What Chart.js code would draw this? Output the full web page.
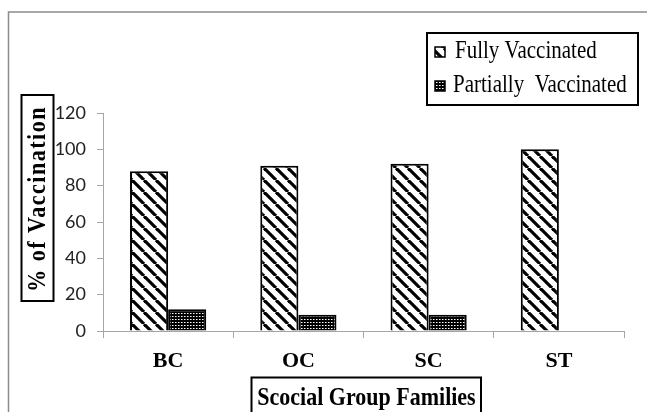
<!DOCTYPE html>
<html>
<head>
<meta charset="utf-8">
<script src="https://cdn.jsdelivr.net/npm/chart.js@4/dist/chart.umd.min.js"></script>
<style>
  html, body { margin: 0; padding: 0; background: #fff; }
  canvas { display: block; }
</style>
</head>
<body>
<canvas id="c" width="647" height="412"></canvas>
<script>
// ---- data ----
const categories = ['BC', 'OC', 'SC', 'ST'];
const fullyVaccinated = [88, 91, 92, 100];
const partiallyVaccinated = [12, 9, 9, 0];
const seriesLabels = ['Fully Vaccinated', 'Partially  Vaccinated'];
const yAxisTitle = '% of Vaccination';
const xAxisTitle = 'Scocial Group Families';
const yMin = 0, yMax = 120, yStep = 20;

// ---- patterns ----
function stripePattern() {
  const s = 12;
  const c = document.createElement('canvas');
  c.width = s; c.height = s;
  const g = c.getContext('2d');
  g.fillStyle = '#fff'; g.fillRect(0, 0, s, s);
  g.strokeStyle = '#000'; g.lineWidth = 3.2;
  for (const o of [-s, 0, s]) {
    g.beginPath(); g.moveTo(o, 0); g.lineTo(o + s, s); g.stroke();
  }
  return g.createPattern(c, 'repeat');
}
function dotPattern() {
  const s = 3;
  const c = document.createElement('canvas');
  c.width = s; c.height = s;
  const g = c.getContext('2d');
  g.fillStyle = '#000'; g.fillRect(0, 0, s, s);
  g.fillStyle = '#fff'; g.fillRect(1, 1, 1, 1);
  g.fillStyle = '#888'; g.fillRect(2, 1, 1, 1);
  return g.createPattern(c, 'repeat');
}
const ctx0 = document.getElementById('c').getContext('2d');
const stripes = stripePattern();
const dots = dotPattern();
const fills = [stripes, dots];

const decorPlugin = {
  id: 'decor',
  beforeDraw(chart) {
    const ctx = chart.ctx;
    ctx.save();
    ctx.strokeStyle = '#8c8c8c'; ctx.lineWidth = 1.5;
    ctx.strokeRect(8.5, 12, 660, 420);
    ctx.restore();
  },
  afterDraw(chart) {
    const ctx = chart.ctx;
    ctx.save();
    ctx.fillStyle = '#000'; ctx.strokeStyle = '#000';
    // legend
    ctx.lineWidth = 2;
    ctx.strokeRect(427, 33, 211, 72);
    const ys = [52, 86], xs = [455, 453], my = [47, 81];
    chart.data.datasets.forEach((ds, i) => {
      ctx.fillStyle = fills[i];
      ctx.fillRect(435, my[i], 10, 10);
      ctx.lineWidth = 1.5; ctx.strokeStyle = '#000';
      ctx.strokeRect(435, my[i], 10, 10);
      ctx.fillStyle = '#000';
      ctx.save();
      ctx.translate(xs[i], ys[i]);
      ctx.scale(1, 1.15);
      ctx.font = '21px "Liberation Serif"';
      ctx.textAlign = 'left'; ctx.textBaseline = 'middle';
      ctx.fillText(ds.label, 0, 0);
      ctx.restore();
    });
    // y title
    ctx.lineWidth = 2;
    ctx.strokeRect(21.5, 95, 32, 206);
    ctx.save();
    ctx.translate(38.5, 199);
    ctx.rotate(-Math.PI / 2);
    ctx.scale(1, 1.1);
    ctx.font = 'bold 22px "Liberation Serif"';
    ctx.letterSpacing = '1.5px';
    ctx.textAlign = 'center'; ctx.textBaseline = 'middle';
    ctx.fillText(yAxisTitle, 0, 0);
    ctx.restore();
    // x title
    ctx.strokeRect(251.5, 377.5, 229.5, 45);
    ctx.save();
    ctx.translate(366.5, 398);
    ctx.scale(1, 1.15);
    ctx.font = 'bold 22px "Liberation Serif"';
    ctx.textAlign = 'center'; ctx.textBaseline = 'middle';
    ctx.fillText(xAxisTitle, 0, 0);
    ctx.restore();
    ctx.restore();
  }
};

const axisGray = '#a6a6a6';
new Chart(ctx0, {
  type: 'bar',
  data: {
    labels: categories,
    datasets: [
      { label: seriesLabels[0], data: fullyVaccinated, backgroundColor: stripes },
      { label: seriesLabels[1], data: partiallyVaccinated, backgroundColor: dots }
    ]
  },
  options: {
    responsive: false,
    devicePixelRatio: 1,
    animation: false,
    layout: { padding: { top: 113, right: 23, left: 0, bottom: 0 } },
    datasets: {
      bar: {
        categoryPercentage: 0.585,
        barPercentage: 1.0,
        borderColor: '#000',
        borderWidth: 2,
        borderSkipped: 'start'
      }
    },
    plugins: { legend: { display: false }, tooltip: { enabled: false } },
    scales: {
      x: {
        grid: { display: true, drawOnChartArea: false, tickLength: 7, color: axisGray, offset: true },
        border: { color: axisGray, width: 1 },
        ticks: { color: '#000', padding: 10, font: { family: 'Liberation Serif', weight: 'bold', size: 22 } },
        afterFit: (s) => { s.height = 81; }
      },
      y: {
        min: yMin, max: yMax,
        grid: { display: true, drawOnChartArea: false, tickLength: 6, color: axisGray },
        border: { color: axisGray, width: 1 },
        ticks: { stepSize: yStep, color: '#222', padding: 11, font: { family: 'Lato', size: 18 } },
        afterFit: (s) => { s.width = 103; }
      }
    }
  },
  plugins: [decorPlugin]
});
</script>
</body>
</html>
